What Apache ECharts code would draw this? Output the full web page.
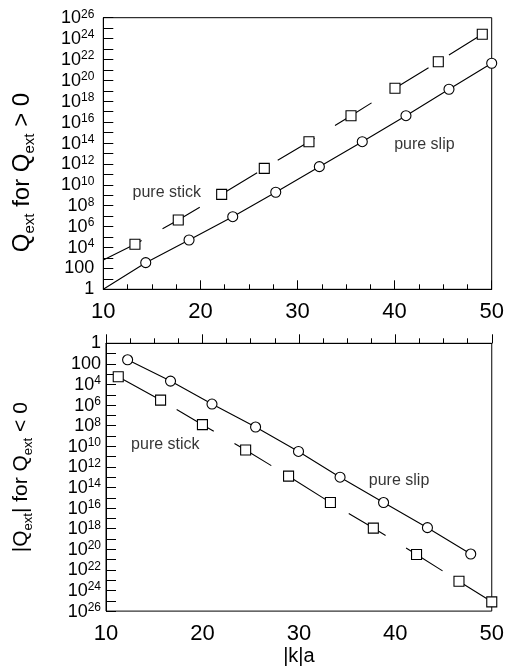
<!DOCTYPE html>
<html>
<head>
<meta charset="utf-8">
<script src="https://cdn.jsdelivr.net/npm/echarts@6/dist/echarts.min.js"></script>
<style>
  html, body { margin: 0; padding: 0; background: #fff; }
  #main { width: 507px; height: 667px; }
</style>
</head>
<body>
<div id="main"></div>
<script>
// upper panel, Q_ext > 0 (y given as power of ten)
var topSlipX = [14.37, 18.83, 23.33, 27.76, 32.25, 36.67, 41.17, 45.6, 50];
var topSlipExp = [2.55, 4.72, 6.95, 9.29, 11.74, 14.13, 16.62, 19.15, 21.64];
var topStickX = [13.26, 17.72, 22.19, 26.58, 31.18, 35.51, 40.04, 44.5, 49.03];
var topStickExp = [4.31, 6.64, 9.09, 11.58, 14.13, 16.62, 19.24, 21.79, 24.41];
// where the fitted curves leave the left edge
var topSlipStart = [10, 0];
var topStickStart = [10, 2.8];

// lower panel, |Q_ext| for Q_ext < 0
var botSlipX = [12.24, 16.69, 20.99, 25.51, 29.96, 34.27, 38.78, 43.33, 47.82];
var botSlipExp = [1.6, 3.67, 5.9, 8.13, 10.5, 13.0, 15.46, 17.9, 20.46];
var botStickX = [11.27, 15.66, 20.0, 24.48, 28.93, 33.27, 37.72, 42.2, 46.6, 50];
var botStickExp = [3.25, 5.52, 7.9, 10.36, 12.9, 15.46, 17.94, 20.5, 23.1, 25.1];

// tick labels
var xLabels = [10, 20, 30, 40, 50];
var yLabelExps = [0, 2, 4, 6, 8, 10, 12, 14, 16, 18, 20, 22, 24, 26];

// text labels inside the panels [x, exponent]
var topNotes = [{ name: 'pure stick', value: [12.96, 9.27] }, { name: 'pure slip', value: [39.9, 13.84] }];
var botNotes = [{ name: 'pure stick', value: [12.55, 9.82] }, { name: 'pure slip', value: [37.2, 13.36] }];

var FONT = 'Liberation Sans';

function pts(xs, exps, start) {
  var out = start ? [[start[0], Math.pow(10, start[1])]] : [];
  for (var i = 0; i < xs.length; i++) out.push([xs[i], Math.pow(10, exps[i])]);
  return out;
}
function notes(list) {
  return list.map(function (n) { return { name: n.name, value: [n.value[0], Math.pow(10, n.value[1])] }; });
}

function expLabel(v) {
  if (yLabelExps.indexOf(v) < 0) return '';
  if (v === 0) return '1';
  if (v === 2) return '100';
  return '{b|10}{s|' + v + '}';
}

var supRich = {
  b: { fontSize: 18, fontFamily: FONT, color: '#000', verticalAlign: 'bottom' },
  s: { fontSize: 12, fontFamily: FONT, color: '#000', verticalAlign: 'bottom', padding: [0, 0, 7, 0] }
};
var subRich = function (fs) {
  return {
    m: { fontSize: fs, fontFamily: FONT, color: '#000', verticalAlign: 'top' },
    s: { fontSize: Math.round(fs * 0.62), fontFamily: FONT, color: '#000', verticalAlign: 'top', padding: [Math.round(fs * 0.5), 0, 0, 0] }
  };
};

function xAxisCfg(grid, extra) {
  var a = {
    gridIndex: grid, type: 'value', min: 10, max: 50, interval: 10,
    axisLine: { lineStyle: { color: '#000', width: 1 } },
    axisTick: { inside: true, length: 9, lineStyle: { color: '#000' } },
    minorTick: { show: true, splitNumber: 4, length: 5, lineStyle: { color: '#000' } },
    splitLine: { show: false },
    axisLabel: {
      fontSize: 22, fontFamily: FONT, color: '#000', margin: 12,
      formatter: function (v) { return xLabels.indexOf(v) >= 0 ? String(v) : ''; }
    }
  };
  for (var k in extra) a[k] = extra[k];
  return a;
}

function expAxisCfg(grid, inverse, margin, name, nameStyle, nameGap) {
  return {
    gridIndex: grid, type: 'value', position: 'left', min: 0, max: 26, interval: 1, inverse: inverse,
    axisLine: { lineStyle: { color: '#000', width: 1 } },
    axisTick: { inside: true, length: 10, lineStyle: { color: '#000' } },
    splitLine: { show: false },
    axisLabel: { fontSize: 18, fontFamily: FONT, color: '#000', margin: margin, formatter: expLabel, rich: supRich },
    name: name, nameLocation: 'middle', nameRotate: 90, nameGap: nameGap, nameTextStyle: nameStyle
  };
}

function curve(xi, yi, data, dashed) {
  return {
    type: 'line', xAxisIndex: xi, yAxisIndex: yi, data: data, showSymbol: false, symbol: 'none',
    lineStyle: { color: '#000', width: 1.1, type: dashed ? [43, 24] : 'solid' }, z: 2, silent: true
  };
}
function marks(xi, yi, data, sym) {
  return {
    type: 'scatter', xAxisIndex: xi, yAxisIndex: yi, data: data, symbol: sym, symbolSize: 10, clip: false,
    itemStyle: { color: '#fff', borderColor: '#000', borderWidth: 1.1, opacity: 1 }, z: 3
  };
}
function noteSeries(xi, yi, data) {
  return {
    type: 'scatter', xAxisIndex: xi, yAxisIndex: yi, data: data, symbolSize: 1,
    itemStyle: { color: 'rgba(0,0,0,0)' },
    label: { show: true, position: 'right', distance: 0, formatter: '{b}', fontSize: 16, fontFamily: FONT, color: '#000' },
    z: 4
  };
}

var chart = echarts.init(document.getElementById('main'));
chart.setOption({
  animation: false,
  backgroundColor: '#fff',
  grid: [
    { left: 103.3, right: 15.3, top: 17.7, height: 271.6, show: true, borderColor: '#000', borderWidth: 1, backgroundColor: 'transparent' },
    { left: 106, right: 14.3, top: 343.3, height: 272, show: true, borderColor: '#000', borderWidth: 1, backgroundColor: 'transparent' }
  ],
  xAxis: [
    xAxisCfg(0, {}),
    xAxisCfg(1, { name: '|k|a', nameLocation: 'middle', nameGap: 21, nameTextStyle: { fontSize: 20, fontFamily: FONT, color: '#000', verticalAlign: 'top' } })
  ],
  yAxis: [
    { gridIndex: 0, type: 'log', logBase: 10, min: 1, max: 1e26, show: false },
    expAxisCfg(0, false, 9, '{m|Q}{s|ext}{m| for Q}{s|ext}{m| > 0}',
      { fontSize: 24, fontFamily: FONT, color: '#000', padding: [0, 38, 0, 0], rich: subRich(24) }, 66),
    { gridIndex: 1, type: 'log', logBase: 10, min: 1, max: 1e26, inverse: true, show: false },
    expAxisCfg(1, true, 5, '{m||Q}{s|ext}{m|| for Q}{s|ext}{m| < 0}',
      { fontSize: 21, fontFamily: FONT, color: '#000', rich: subRich(21) }, 71)
  ],
  series: [
    curve(0, 0, pts(topSlipX, topSlipExp, topSlipStart), false),
    curve(0, 0, pts(topStickX, topStickExp, topStickStart), true),
    marks(0, 0, pts(topSlipX, topSlipExp), 'circle'),
    marks(0, 0, pts(topStickX, topStickExp), 'rect'),
    noteSeries(0, 0, notes(topNotes)),
    curve(1, 2, pts(botSlipX, botSlipExp), false),
    curve(1, 2, pts(botStickX, botStickExp), true),
    marks(1, 2, pts(botSlipX, botSlipExp), 'circle'),
    marks(1, 2, pts(botStickX, botStickExp), 'rect'),
    noteSeries(1, 2, notes(botNotes))
  ]
});
</script>
</body>
</html>
